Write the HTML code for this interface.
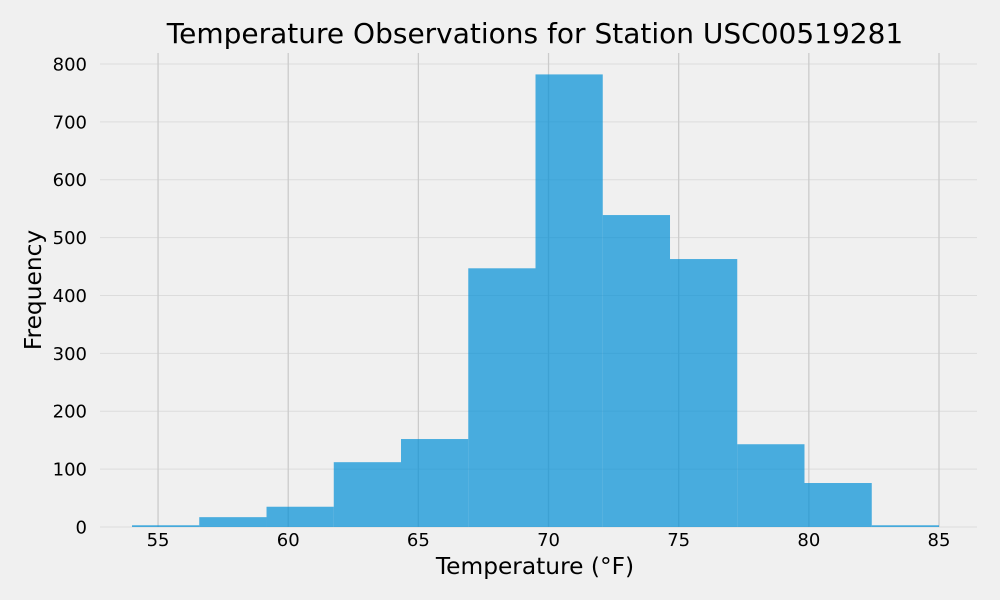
<!DOCTYPE html>
<html><head><meta charset="utf-8"><style>
html,body{margin:0;padding:0;background:#f0f0f0;}
svg{display:block;font-family:"DejaVu Sans","Liberation Sans",sans-serif;}
</style></head><body>
<svg id="chart" width="1000" height="600">
<rect width="1000" height="600" fill="#f0f0f0"/>
<g id="grid"></g><g id="bars"></g><g id="ticks"></g>
<text x="535" y="43" text-anchor="middle" font-size="28" fill="#000">Temperature Observations for Station USC00519281</text>
<text x="535" y="574" text-anchor="middle" font-size="23.3" fill="#000">Temperature (°F)</text>
<text transform="translate(41,290) rotate(-90)" text-anchor="middle" font-size="23.3" fill="#000">Frequency</text>
</svg>
<script>
const binEdges=[54,56.583,59.167,61.75,64.333,66.917,69.5,72.083,74.667,77.25,79.833,82.417,85];
const counts=[3,17,35,112,152,447,782,539,463,143,76,3];
const xTicks=[55,60,65,70,75,80,85];
const yTicks=[0,100,200,300,400,500,600,700,800];
const X0=52.77,X1=86.46,Y1=819;
const L=100,R=977,T=53,B=527;
const xs=v=>L+(v-X0)/(X1-X0)*(R-L);
const ys=v=>B-v/Y1*(B-T);
const NS="http://www.w3.org/2000/svg";
const g=document.getElementById('grid'),bg=document.getElementById('bars'),tg=document.getElementById('ticks');
function mk(p,tag,a){const e=document.createElementNS(NS,tag);for(const k in a)e.setAttribute(k,a[k]);p.appendChild(e);return e;}
yTicks.forEach(v=>{
  const l=mk(g,'line',{x1:L,x2:R,y1:ys(v),y2:ys(v),stroke:'#dcdcdc','stroke-width':1});
  
  
  const t=mk(tg,'text',{x:87,y:ys(v)+6.5,'text-anchor':'end','font-size':18,fill:'#000'});
  t.textContent=v;
  
  
});
xTicks.forEach(v=>{
  const l=mk(g,'line',{x1:xs(v),x2:xs(v),y1:T,y2:B,stroke:'#cbcbcb','stroke-width':1.3});
  
  
  const t=mk(tg,'text',{x:xs(v),y:546,'text-anchor':'middle','font-size':18,fill:'#000'});
  t.textContent=v;
  
  
});
counts.forEach((c,i)=>{
  const x0=xs(binEdges[i]),x1=xs(binEdges[i+1]);
  const r=mk(bg,'rect',{x:x0,y:ys(c),width:x1-x0,height:ys(0)-ys(c),fill:'#008fd5','fill-opacity':0.7});
  
  
});
</script>
</body></html>
